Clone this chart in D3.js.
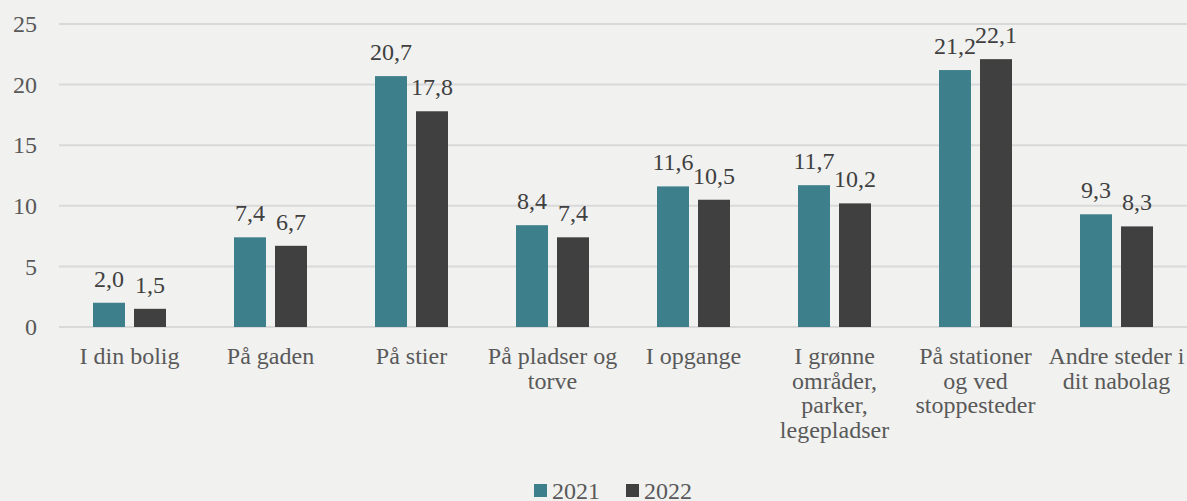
<!DOCTYPE html>
<html>
<head>
<meta charset="utf-8">
<script src="https://cdn.jsdelivr.net/npm/d3@7"></script>
<style>
  html, body { margin: 0; padding: 0; background: #f1f1f0; }
  svg { display: block; }
  svg text { font-family: "Liberation Serif", serif; }
</style>
</head>
<body>
<div id="chart"></div>
<script>
var width = 1187,
    height = 501;

// data
var categories = [
  ["I din bolig"],
  ["På gaden"],
  ["På stier"],
  ["På pladser og", "torve"],
  ["I opgange"],
  ["I grønne", "områder,", "parker,", "legepladser"],
  ["På stationer", "og ved", "stoppesteder"],
  ["Andre steder i", "dit nabolag"]
];
var years = ["2021", "2022"];
var values2021 = [2.0, 7.4, 20.7, 8.4, 11.6, 11.7, 21.2, 9.3];
var values2022 = [1.5, 6.7, 17.8, 7.4, 10.5, 10.2, 22.1, 8.3];
var yTicks = [0, 5, 10, 15, 20, 25];
var colors = ["#3d7f8b", "#404040"];

var serif = "Liberation Serif, serif";

var margin = {top: 24, right: 0, bottom: 174, left: 59};
var innerW = width - margin.left - margin.right,
    innerH = height - margin.top - margin.bottom;

var svg = d3.select("#chart").append("svg")
    .attr("width", width)
    .attr("height", height);

var g = svg.append("g")
    .attr("transform", "translate(" + margin.left + "," + margin.top + ")");

var x0 = d3.scaleBand()
    .domain(d3.range(categories.length))
    .range([0, innerW]);

var x1 = d3.scaleBand()
    .domain(years)
    .range([34, x0.bandwidth() - 34])
    .paddingInner(0.22);

var y = d3.scaleLinear()
    .domain([0, 25])
    .range([innerH, 0]);

// gridlines
g.append("g")
  .selectAll("line")
  .data(yTicks)
  .enter().append("line")
    .attr("x1", 0)
    .attr("x2", innerW)
    .attr("y1", function(d) { return y(d); })
    .attr("y2", function(d) { return y(d); })
    .attr("stroke", "#d9d9d9")
    .attr("stroke-width", 2);

// y axis labels
var yAxis = g.append("g")
    .call(d3.axisLeft(y).tickValues(yTicks).tickSize(0).tickPadding(22));
yAxis.select(".domain").remove();
yAxis.attr("font-family", serif);
yAxis.selectAll("text")
    .attr("fill", "#595959")
    .style("font-size", "24px")
    .style("font-family", serif);

var series = [values2021, values2022];

var groups = g.selectAll(".cat")
  .data(categories)
  .enter().append("g")
    .attr("class", "cat")
    .attr("transform", function(d, i) { return "translate(" + x0(i) + ",0)"; });

groups.selectAll("rect")
  .data(function(d, i) { return years.map(function(yr, k) { return {yr: yr, k: k, v: series[k][i]}; }); })
  .enter().append("rect")
    .attr("x", function(d) { return x1(d.yr); })
    .attr("width", x1.bandwidth())
    .attr("y", function(d) { return y(d.v); })
    .attr("height", function(d) { return innerH - y(d.v); })
    .attr("fill", function(d) { return colors[d.k]; });

groups.selectAll(".val")
  .data(function(d, i) { return years.map(function(yr, k) { return {yr: yr, k: k, v: series[k][i]}; }); })
  .enter().append("text")
    .attr("class", "val")
    .attr("x", function(d) { return x1(d.yr) + x1.bandwidth() / 2; })
    .attr("y", function(d) { return y(d.v) - 16; })
    .attr("text-anchor", "middle")
    .attr("fill", "#404040")
    .style("font-family", serif)
    .style("font-size", "24px")
    .text(function(d) { return d3.format(".1f")(d.v).replace(".", ","); });

// category labels
groups.append("text")
    .attr("text-anchor", "middle")
    .attr("fill", "#595959")
    .style("font-family", serif)
    .style("font-size", "24px")
    .selectAll("tspan")
    .data(function(d) { return d; })
    .enter().append("tspan")
      .attr("x", x0.bandwidth() / 2)
      .attr("y", function(d, i) { return innerH + 37 + i * 24.5; })
      .text(function(d) { return d; });

// legend
var legend = svg.append("g")
    .attr("transform", "translate(534,484)");
var legendX = [0, 92];
years.forEach(function(yr, k) {
  legend.append("rect")
    .attr("x", legendX[k])
    .attr("y", 0)
    .attr("width", 13)
    .attr("height", 13)
    .attr("fill", colors[k]);
  legend.append("text")
    .attr("x", legendX[k] + 18)
    .attr("y", 15)
    .attr("fill", "#595959")
    .style("font-family", serif)
    .style("font-size", "24px")
    .text(yr);
});
</script>
</body>
</html>
